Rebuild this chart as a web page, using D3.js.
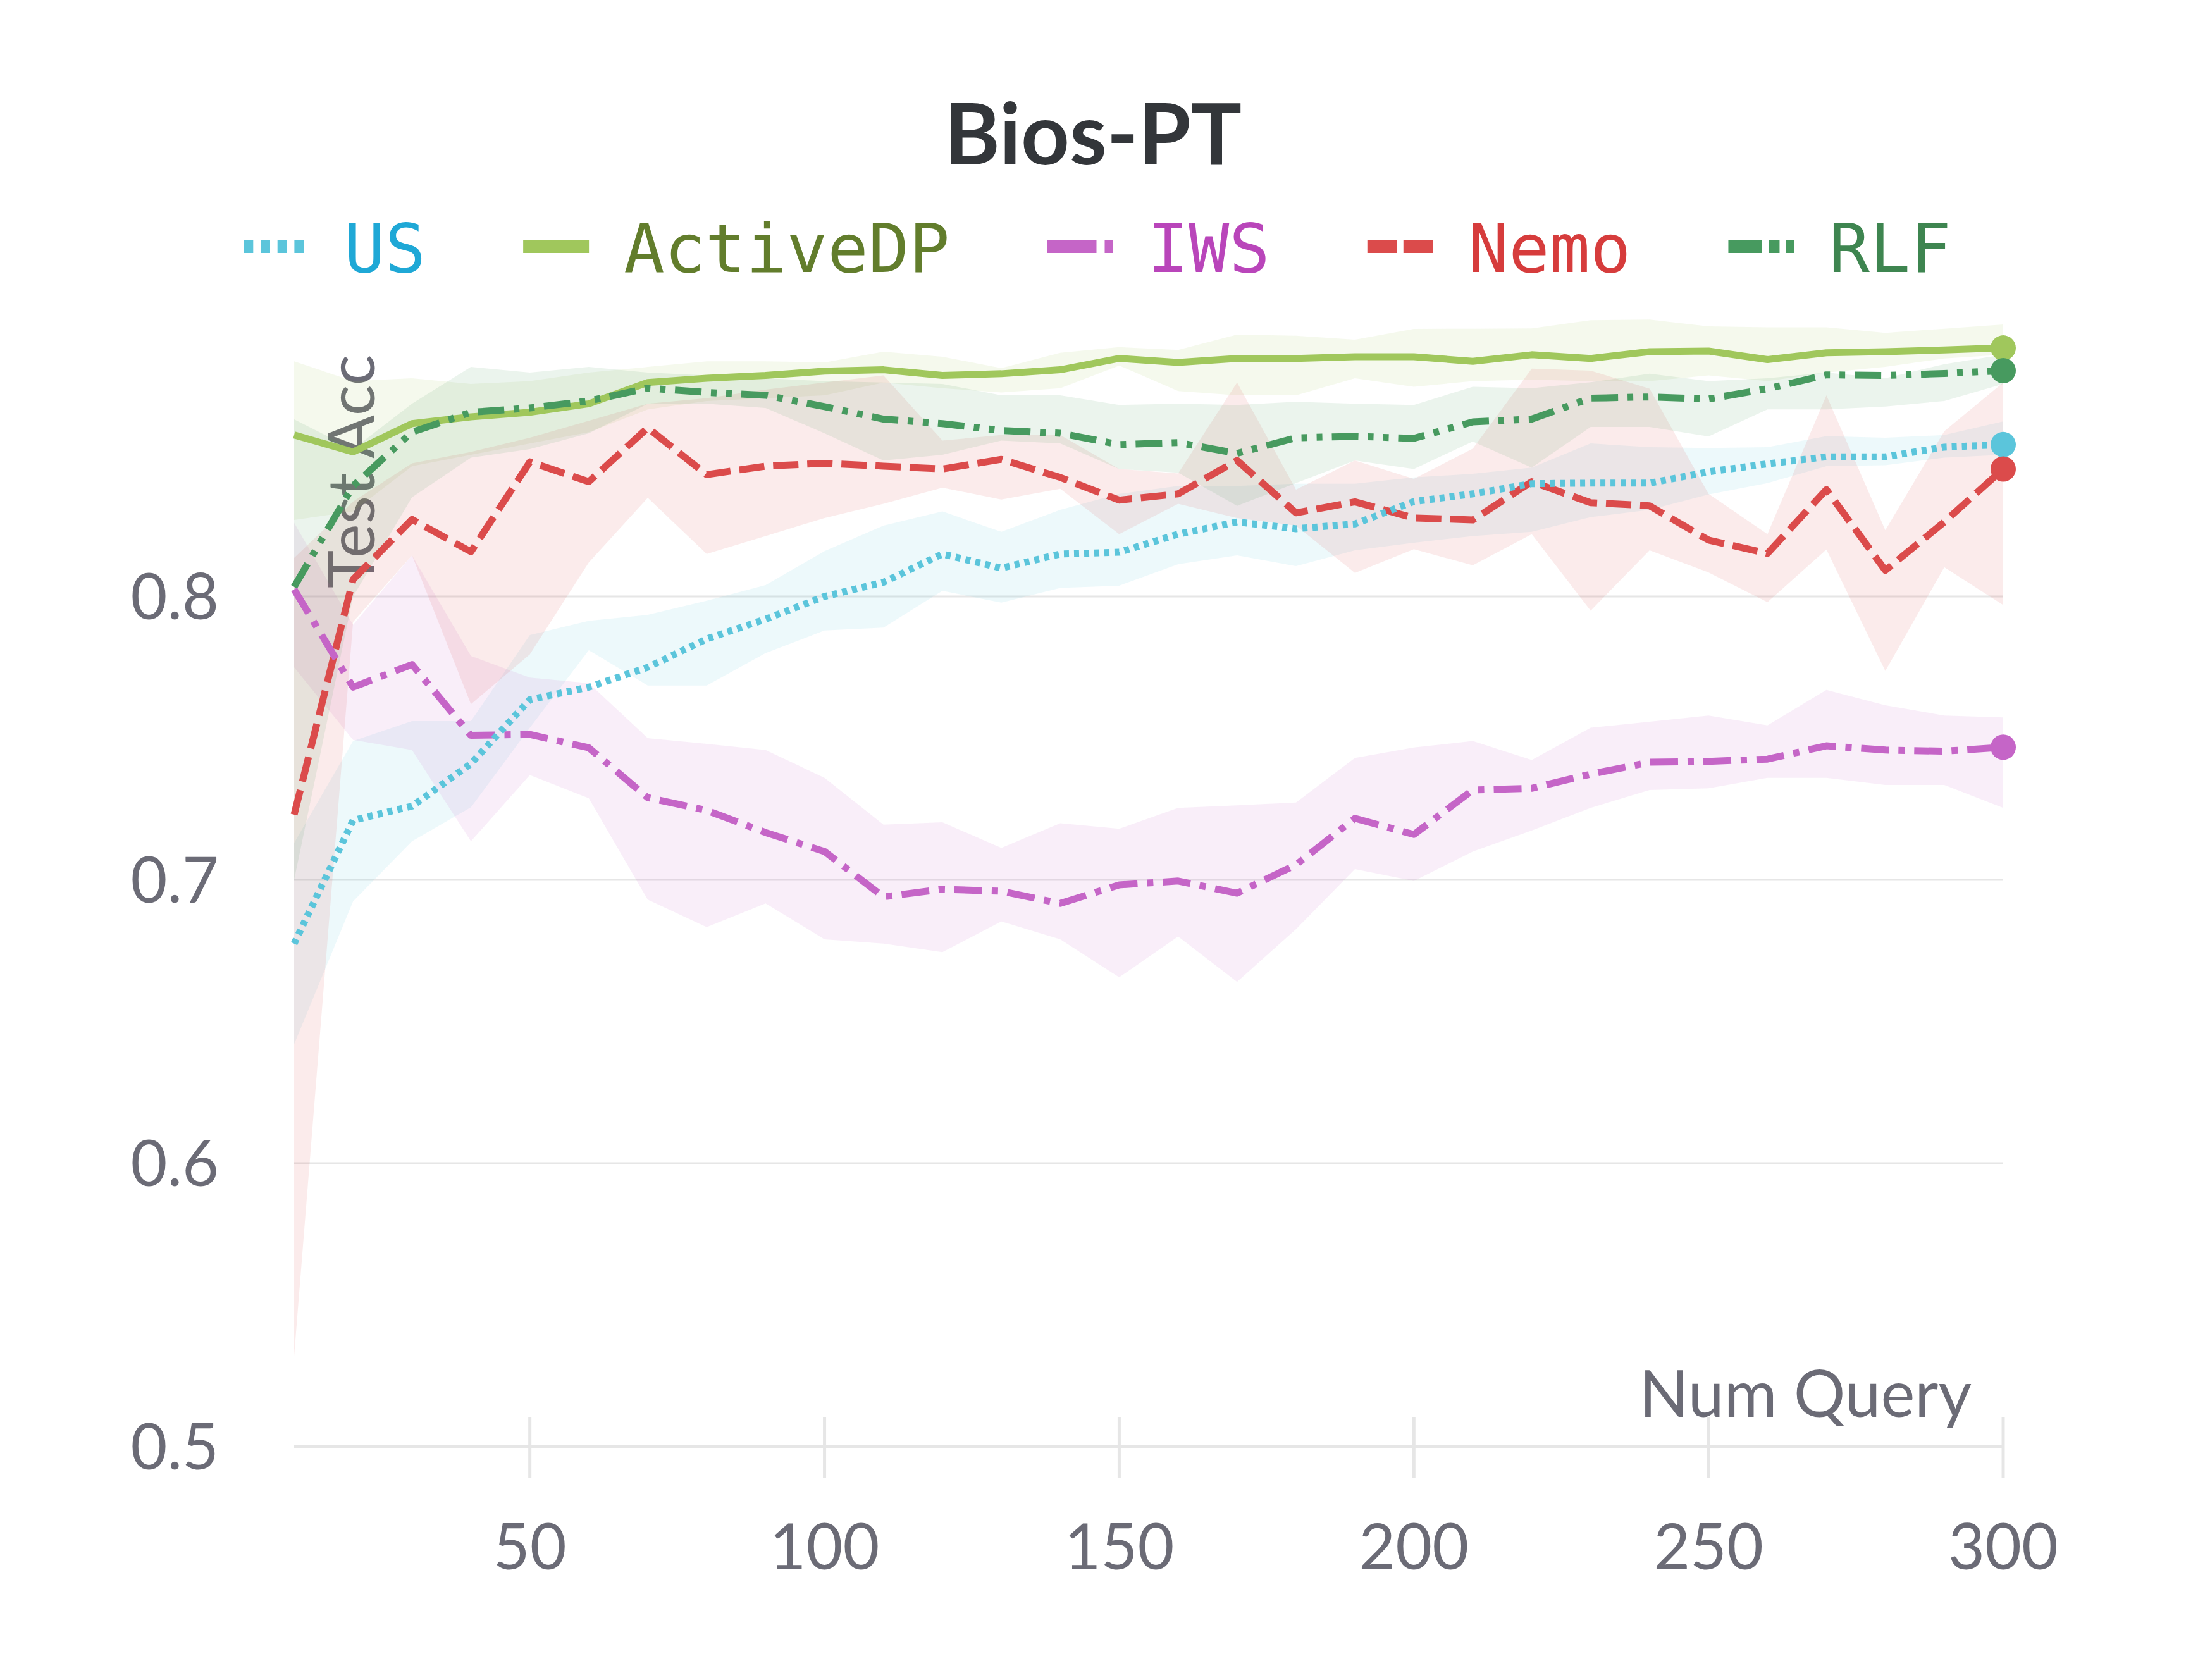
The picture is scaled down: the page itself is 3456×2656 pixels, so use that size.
<!DOCTYPE html>
<html>
<head>
<meta charset="utf-8">
<script src="https://cdn.jsdelivr.net/npm/d3@7"></script>
<style>
  body { margin: 0; background: #fff; }
</style>
</head>
<body>
<script>
// Bios-PT: test accuracy vs number of queries (mean line + min/max band)
const numQuery = [10, 20, 30, 40, 50, 60, 70, 80, 90, 100, 110, 120, 130, 140, 150,
  160, 170, 180, 190, 200, 210, 220, 230, 240, 250, 260, 270, 280, 290, 300];

const usMean = [0.6775, 0.721, 0.726, 0.741, 0.7636, 0.768, 0.775, 0.785, 0.792, 0.800,
  0.805, 0.815, 0.810, 0.815, 0.8156, 0.822, 0.8263, 0.8239, 0.8256, 0.8335,
  0.8362, 0.8398, 0.840, 0.840, 0.844, 0.8468, 0.8493, 0.8493, 0.8527, 0.8536];
const usLow = [0.642, 0.6924, 0.7136, 0.7256, 0.7537, 0.781, 0.7686, 0.7686, 0.780, 0.788,
  0.789, 0.802, 0.7978, 0.803, 0.8038, 0.8114, 0.8145, 0.8107, 0.8163, 0.819,
  0.8213, 0.8228, 0.828, 0.8306, 0.836, 0.840, 0.846, 0.8463, 0.849, 0.850];
const usHigh = [0.713, 0.749, 0.756, 0.756, 0.7864, 0.7914, 0.7935, 0.7985, 0.804, 0.816,
  0.825, 0.830, 0.8228, 0.8306, 0.8362, 0.839, 0.839, 0.8398, 0.8398, 0.842,
  0.8433, 0.8455, 0.854, 0.8527, 0.8524, 0.8527, 0.8566, 0.856, 0.857, 0.8618];

const activeMean = [0.857, 0.851, 0.861, 0.8634, 0.865, 0.868, 0.8755, 0.877, 0.878, 0.8795,
  0.880, 0.878, 0.8786, 0.880, 0.884, 0.8826, 0.884, 0.884, 0.8846, 0.8846,
  0.883, 0.8853, 0.884, 0.8864, 0.8866, 0.8836, 0.886, 0.8864, 0.887, 0.8877];
const activeLow = [0.827, 0.830, 0.846, 0.850, 0.854, 0.858, 0.866, 0.869, 0.870, 0.871,
  0.8755, 0.8735, 0.872, 0.8735, 0.8815, 0.8725, 0.871, 0.871, 0.877, 0.874,
  0.876, 0.8765, 0.876, 0.876, 0.878, 0.876, 0.879, 0.881, 0.884, 0.8853];
const activeHigh = [0.883, 0.876, 0.877, 0.875, 0.876, 0.879, 0.881, 0.883, 0.883, 0.8826,
  0.8864, 0.8846, 0.8806, 0.886, 0.888, 0.887, 0.8924, 0.892, 0.8906, 0.8944,
  0.8945, 0.8946, 0.8975, 0.8977, 0.8953, 0.895, 0.895, 0.893, 0.8945, 0.896];

const iwsMean = [0.8025, 0.768, 0.776, 0.751, 0.7513, 0.7466, 0.729, 0.7245, 0.7167, 0.710,
  0.694, 0.6967, 0.696, 0.6917, 0.6982, 0.6996, 0.6953, 0.7053, 0.7217, 0.716,
  0.7317, 0.7323, 0.7373, 0.7415, 0.7418, 0.7426, 0.7473, 0.7458, 0.7454, 0.7468];
const iwsLow = [0.775, 0.7494, 0.7458, 0.7136, 0.737, 0.7288, 0.693, 0.6833, 0.6917, 0.679,
  0.6775, 0.6745, 0.6853, 0.679, 0.6656, 0.680, 0.664, 0.6826, 0.7038, 0.6996,
  0.710, 0.7174, 0.7254, 0.7317, 0.7323, 0.736, 0.736, 0.7335, 0.7335, 0.7254];
const iwsHigh = [0.826, 0.790, 0.8145, 0.779, 0.7714, 0.7694, 0.750, 0.748, 0.7458, 0.736,
  0.7195, 0.7203, 0.7113, 0.720, 0.718, 0.7254, 0.7263, 0.7273, 0.743, 0.7467,
  0.749, 0.7423, 0.7537, 0.7558, 0.758, 0.7545, 0.767, 0.7616, 0.758, 0.7573];

const nemoMean = [0.723, 0.806, 0.8272, 0.8158, 0.8475, 0.8405, 0.8595, 0.843, 0.846, 0.847,
  0.846, 0.845, 0.8484, 0.842, 0.834, 0.8362, 0.848, 0.8295, 0.8334, 0.8277,
  0.827, 0.8405, 0.8331, 0.832, 0.8199, 0.8152, 0.8377, 0.8092, 0.8263, 0.845];
const nemoLow = [0.532, 0.791, 0.8145, 0.762, 0.7796, 0.812, 0.8348, 0.815, 0.8213, 0.8277,
  0.8327, 0.8384, 0.8342, 0.838, 0.822, 0.8327, 0.8277, 0.825, 0.8083, 0.8167,
  0.811, 0.822, 0.795, 0.8163, 0.8085, 0.798, 0.8166, 0.7737, 0.8103, 0.797];
const nemoHigh = [0.8136, 0.8335, 0.847, 0.851, 0.856, 0.862, 0.868, 0.870, 0.873, 0.8755,
  0.878, 0.855, 0.857, 0.857, 0.845, 0.8434, 0.8755, 0.8377, 0.848, 0.8415,
  0.8522, 0.8804, 0.8797, 0.8733, 0.8362, 0.822, 0.871, 0.8234, 0.8583, 0.8755];

const rlfMean = [0.8034, 0.839, 0.858, 0.865, 0.8665, 0.869, 0.8735, 0.872, 0.871, 0.867,
  0.8626, 0.861, 0.8586, 0.8576, 0.8536, 0.8543, 0.8505, 0.856, 0.8565, 0.8558,
  0.8616, 0.8626, 0.870, 0.8704, 0.8697, 0.8733, 0.8782, 0.878, 0.8787, 0.8797];
const rlfLow = [0.700, 0.800, 0.835, 0.849, 0.852, 0.8576, 0.868, 0.868, 0.8665, 0.8576,
  0.848, 0.850, 0.855, 0.854, 0.845, 0.8437, 0.832, 0.840, 0.848, 0.845,
  0.8547, 0.8455, 0.8598, 0.8598, 0.8565, 0.866, 0.866, 0.867, 0.869, 0.875];
const rlfHigh = [0.8625, 0.852, 0.868, 0.881, 0.879, 0.881, 0.879, 0.878, 0.877, 0.876,
  0.8755, 0.875, 0.871, 0.871, 0.8676, 0.868, 0.8676, 0.8687, 0.868, 0.8676,
  0.874, 0.8735, 0.8756, 0.8786, 0.876, 0.877, 0.879, 0.877, 0.882, 0.8853];

const xTicks = [50, 100, 150, 200, 250, 300];
const yTicks = [0.5, 0.6, 0.7, 0.8];

// series table (legend order)
const series = [
  { name: "US", mean: usMean, low: usLow, high: usHigh,
    color: "#5bc5db", text: "#1fa8d6", dash: "8,8", legendDash: "15,11.7" },
  { name: "ActiveDP", mean: activeMean, low: activeLow, high: activeHigh,
    color: "#a0c75c", text: "#627d2c", dash: null, legendDash: null },
  { name: "IWS", mean: iwsMean, low: iwsLow, high: iwsHigh,
    color: "#c565c7", text: "#b945ba", dash: "44,15,10,15", legendDash: "78,13,17,200" },
  { name: "Nemo", mean: nemoMean, low: nemoLow, high: nemoHigh,
    color: "#db4b4b", text: "#d63c3c", dash: "40,14", legendDash: "47,10,47,200" },
  { name: "RLF", mean: rlfMean, low: rlfLow, high: rlfHigh,
    color: "#479a5f", text: "#3e8550", dash: "42,15,9,15,9,15", legendDash: "53,11,17,10,17,200" }
];

const W = 3456, H = 2656;
const axisColor = "#e6e6e6";
const labelColor = "#6b6b76";
const sansFont = "'Source Sans Pro', Lato, 'Open Sans', sans-serif";

const svg = d3.select("body").append("svg")
  .attr("width", W)
  .attr("height", H)
  .style("display", "block");

const x = d3.scaleLinear().domain([10, 300]).range([465, 3167]);
const y = d3.scaleLinear().domain([0.5, 0.9]).range([2287, 495]);

// Title
svg.append("text")
  .text("Bios-PT")
  .attr("x", W / 2)
  .attr("y", 260)
  .attr("text-anchor", "middle")
  .attr("font-family", sansFont)
  .attr("font-weight", "bold")
  .attr("font-size", 134)
  .attr("fill", "#33363a");

// Legend, laid out from measured text widths and centred
const legend = svg.append("g");
const legendItems = legend.selectAll("g")
  .data(series)
  .enter()
  .append("g");

legendItems.append("line")
  .attr("x1", 0).attr("x2", 104)
  .attr("y1", 0).attr("y2", 0)
  .attr("stroke", d => d.color)
  .attr("stroke-width", 20)
  .attr("stroke-dasharray", d => d.legendDash);

legendItems.append("text")
  .text(d => d.name)
  .attr("x", 159)
  .attr("y", 40)
  .attr("font-family", "'DejaVu Sans Mono', monospace")
  .attr("font-size", 107)
  .attr("fill", d => d.text);

let cursor = 0;
legendItems.each(function () {
  const tw = d3.select(this).select("text").node().getComputedTextLength();
  d3.select(this).attr("transform", `translate(${cursor},0)`);
  cursor += 159 + tw + 154;
});
const legendWidth = cursor - 154;
legend.attr("transform", `translate(${1735 - legendWidth / 2}, 390)`);

// Horizontal grid lines
svg.append("g")
  .selectAll("line")
  .data(yTicks.filter(t => t > 0.5))
  .enter()
  .append("line")
  .attr("x1", x(10)).attr("x2", x(300))
  .attr("y1", d => y(d)).attr("y2", d => y(d))
  .attr("stroke", axisColor)
  .attr("stroke-width", 3);

// X axis baseline + ticks
svg.append("line")
  .attr("x1", x(10)).attr("x2", x(300))
  .attr("y1", y(0.5)).attr("y2", y(0.5))
  .attr("stroke", axisColor)
  .attr("stroke-width", 5);

svg.append("g")
  .selectAll("line")
  .data(xTicks)
  .enter()
  .append("line")
  .attr("x1", d => x(d)).attr("x2", d => x(d))
  .attr("y1", y(0.5) - 47).attr("y2", y(0.5) + 49)
  .attr("stroke", axisColor)
  .attr("stroke-width", 5);

// Tick labels
svg.append("g")
  .selectAll("text")
  .data(xTicks)
  .enter()
  .append("text")
  .text(d => d)
  .attr("x", d => x(d))
  .attr("y", 2481)
  .attr("text-anchor", "middle")
  .attr("font-family", sansFont)
  .attr("font-size", 100)
  .attr("fill", labelColor);

svg.append("g")
  .selectAll("text")
  .data(yTicks)
  .enter()
  .append("text")
  .text(d => d3.format(".1f")(d))
  .attr("x", 346)
  .attr("y", d => y(d) + 36)
  .attr("text-anchor", "end")
  .attr("font-family", sansFont)
  .attr("font-size", 100)
  .attr("fill", labelColor);

// Axis titles
svg.append("text")
  .text("Num Query")
  .attr("x", 3117)
  .attr("y", 2240)
  .attr("text-anchor", "end")
  .attr("font-family", sansFont)
  .attr("font-size", 102)
  .attr("fill", labelColor);

svg.append("text")
  .text("Test Acc")
  .attr("transform", "translate(592, 930) rotate(-90)")
  .attr("text-anchor", "start")
  .attr("font-family", sansFont)
  .attr("font-size", 102)
  .attr("fill", labelColor);

// Min/max bands
const band = d3.area()
  .x((d, i) => x(numQuery[i]))
  .y0(d => y(d[0]))
  .y1(d => y(d[1]));

svg.append("g")
  .selectAll("path")
  .data(series)
  .enter()
  .append("path")
  .attr("d", s => band(s.low.map((v, i) => [v, s.high[i]])))
  .attr("fill", s => s.color)
  .attr("fill-opacity", 0.11)
  .attr("stroke", "none");

// Mean lines
const line = d3.line()
  .x((d, i) => x(numQuery[i]))
  .y(d => y(d));

const order = [1, 4, 3, 2, 0]; // ActiveDP, RLF, Nemo, IWS, US
svg.append("g")
  .selectAll("path")
  .data(order.map(i => series[i]))
  .enter()
  .append("path")
  .attr("d", s => line(s.mean))
  .attr("fill", "none")
  .attr("stroke", s => s.color)
  .attr("stroke-width", 11)
  .attr("stroke-linejoin", "round")
  .attr("stroke-dasharray", s => s.dash);

// End-point markers
svg.append("g")
  .selectAll("circle")
  .data(series)
  .enter()
  .append("circle")
  .attr("cx", x(300))
  .attr("cy", s => y(s.mean[s.mean.length - 1]))
  .attr("r", 20)
  .attr("fill", s => s.color);
</script>
</body>
</html>
